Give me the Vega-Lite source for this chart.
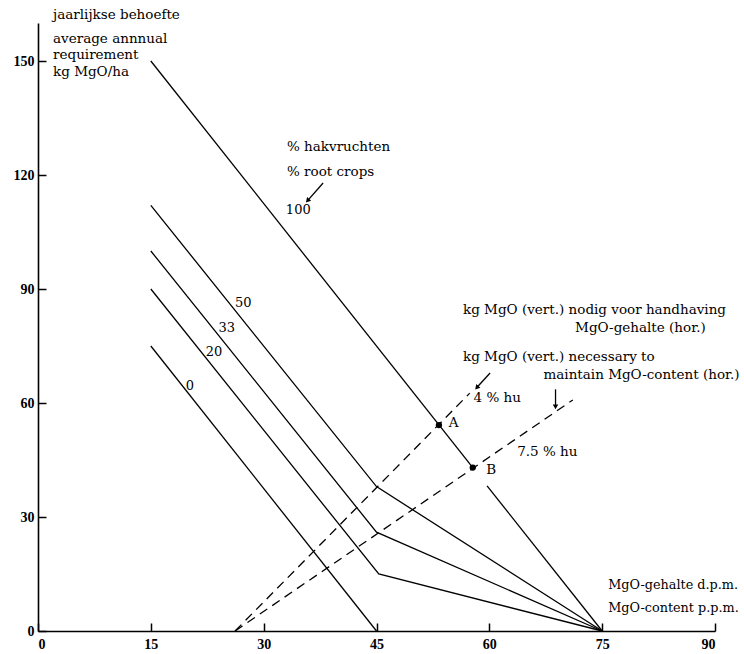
{
  "$schema": "https://vega.github.io/schema/vega-lite/v6.json",
  "width": 677,
  "height": 608,
  "autosize": {"type": "none"},
  "padding": {"left": 38, "top": 23, "right": 29, "bottom": 23},
  "background": "white",
  "config": {
    "view": {"stroke": null},
    "font": "DejaVu Serif",
    "axis": {"grid": false, "domainColor": "black", "domainWidth": 1.6, "tickColor": "black", "tickWidth": 1.5, "labelColor": "black", "labelFont": "Liberation Serif", "labelFontWeight": "bold", "labelFontSize": 14, "title": null}
  },
  "datasets": {
    "solid": [
      {"series": "0", "ord": 1, "x": 15, "y": 75}, {"series": "0", "ord": 2, "x": 45, "y": 0},
      {"series": "20", "ord": 1, "x": 15, "y": 90}, {"series": "20", "ord": 2, "x": 45.3, "y": 15}, {"series": "20", "ord": 3, "x": 75, "y": 0},
      {"series": "33", "ord": 1, "x": 15, "y": 100}, {"series": "33", "ord": 2, "x": 45, "y": 26}, {"series": "33", "ord": 3, "x": 75, "y": 0},
      {"series": "50", "ord": 1, "x": 15, "y": 112}, {"series": "50", "ord": 2, "x": 45, "y": 38}, {"series": "50", "ord": 3, "x": 75, "y": 0},
      {"series": "100a", "ord": 1, "x": 15, "y": 150}, {"series": "100a", "ord": 2, "x": 57.8, "y": 43},
      {"series": "100b", "ord": 1, "x": 59.7, "y": 38.2}, {"series": "100b", "ord": 2, "x": 75, "y": 0}
    ],
    "dashed": [
      {"series": "4", "ord": 1, "x": 26.2, "y": 0}, {"series": "4", "ord": 2, "x": 57.4, "y": 62.6},
      {"series": "7.5", "ord": 1, "x": 26.2, "y": 0}, {"series": "7.5", "ord": 2, "x": 71.1, "y": 60.8}
    ],
    "pts": [
      {"name": "A", "x": 53.3, "y": 54.2},
      {"name": "B", "x": 57.8, "y": 43}
    ],
    "notes": [
      {"t": "jaarlijkse behoefte", "x": 2.0, "y": 162.1},
      {"t": "average annnual", "x": 2.0, "y": 155.8},
      {"t": "requirement", "x": 2.0, "y": 151.6},
      {"t": "kg MgO/ha", "x": 2.0, "y": 147.1},
      {"t": "% hakvruchten", "x": 33.1, "y": 127.4},
      {"t": "% root crops", "x": 33.1, "y": 120.8},
      {"t": "kg MgO (vert.) nodig voor handhaving", "x": 56.5, "y": 84.5},
      {"t": "MgO-gehalte (hor.)", "x": 71.4, "y": 79.7},
      {"t": "kg MgO (vert.) necessary to", "x": 56.5, "y": 72.1},
      {"t": "maintain MgO-content (hor.)", "x": 67.2, "y": 67.4},
      {"t": "4 % hu", "x": 57.9, "y": 61.3},
      {"t": "7.5 % hu", "x": 63.7, "y": 47.1},
      {"t": "A", "x": 54.6, "y": 54.7},
      {"t": "B", "x": 59.6, "y": 42.4}
    ],
    "axisnotes": [
      {"t": "MgO-gehalte d.p.m.", "x": 75.8, "y": 12.1},
      {"t": "MgO-content p.p.m.", "x": 75.8, "y": 6.1}
    ],
    "linelabels": [
      {"t": "100", "x": 34.6, "y": 110.8},
      {"t": "50", "x": 27.3, "y": 86.3},
      {"t": "33", "x": 25.1, "y": 79.7},
      {"t": "20", "x": 23.4, "y": 73.4},
      {"t": "0", "x": 20.2, "y": 64.5}
    ],
    "arrows": [
      {"dir": "dl", "x": 37.9, "y": 117.9, "x2": 35.9, "y2": 113.4},
      {"dir": "dl", "x": 60.1, "y": 67.9, "x2": 58.4, "y2": 64.2},
      {"dir": "d", "x": 68.8, "y": 63.6, "x2": 68.8, "y2": 59.2}
    ]
  },
  "layer": [
    {
      "data": {"name": "solid"},
      "mark": {"type": "line", "color": "black", "strokeWidth": 1.3},
      "encoding": {
        "x": {"field": "x", "type": "quantitative", "scale": {"domain": [0, 90], "nice": false, "zero": false},
              "axis": {"values": [0, 15, 30, 45, 60, 75, 90], "tickSize": -8, "labelPadding": 14, "labelFontSize": 14}},
        "y": {"field": "y", "type": "quantitative", "scale": {"domain": [0, 160], "nice": false},
              "axis": {"values": [0, 30, 60, 90, 120, 150], "tickSize": -8, "labelPadding": 12}},
        "detail": {"field": "series"},
        "order": {"field": "ord"}
      }
    },
    {
      "data": {"name": "dashed"},
      "mark": {"type": "line", "color": "black", "strokeWidth": 1.3, "strokeDash": [9, 6]},
      "encoding": {
        "x": {"field": "x", "type": "quantitative"},
        "y": {"field": "y", "type": "quantitative"},
        "detail": {"field": "series"},
        "order": {"field": "ord"}
      }
    },
    {
      "data": {"name": "pts"},
      "mark": {"type": "point", "filled": true, "color": "black", "size": 40, "opacity": 1},
      "encoding": {
        "x": {"field": "x", "type": "quantitative"},
        "y": {"field": "y", "type": "quantitative"}
      }
    },
    {
      "data": {"name": "arrows"},
      "mark": {"type": "rule", "color": "black", "strokeWidth": 1.3},
      "encoding": {
        "x": {"field": "x", "type": "quantitative"},
        "y": {"field": "y", "type": "quantitative"},
        "x2": {"field": "x2"},
        "y2": {"field": "y2"}
      }
    },
    {
      "data": {"name": "arrows"},
      "transform": [{"filter": "datum.dir == 'dl'"}],
      "mark": {"type": "point", "shape": "triangle", "filled": true, "color": "black", "size": 30, "angle": 222, "opacity": 1},
      "encoding": {
        "x": {"field": "x2", "type": "quantitative"},
        "y": {"field": "y2", "type": "quantitative"}
      }
    },
    {
      "data": {"name": "arrows"},
      "transform": [{"filter": "datum.dir == 'd'"}],
      "mark": {"type": "point", "shape": "triangle", "filled": true, "color": "black", "size": 30, "angle": 180, "opacity": 1},
      "encoding": {
        "x": {"field": "x2", "type": "quantitative"},
        "y": {"field": "y2", "type": "quantitative"}
      }
    },
    {
      "data": {"name": "notes"},
      "mark": {"type": "text", "align": "left", "baseline": "middle", "font": "DejaVu Serif", "fontSize": 13.5, "color": "black"},
      "encoding": {
        "x": {"field": "x", "type": "quantitative"},
        "y": {"field": "y", "type": "quantitative"},
        "text": {"field": "t"}
      }
    },
    {
      "data": {"name": "axisnotes"},
      "mark": {"type": "text", "align": "left", "baseline": "middle", "font": "DejaVu Serif", "fontSize": 12.8, "color": "black"},
      "encoding": {
        "x": {"field": "x", "type": "quantitative"},
        "y": {"field": "y", "type": "quantitative"},
        "text": {"field": "t"}
      }
    },
    {
      "data": {"name": "linelabels"},
      "mark": {"type": "text", "align": "center", "baseline": "middle", "font": "DejaVu Serif", "fontSize": 13, "color": "black"},
      "encoding": {
        "x": {"field": "x", "type": "quantitative"},
        "y": {"field": "y", "type": "quantitative"},
        "text": {"field": "t"}
      }
    }
  ]
}
